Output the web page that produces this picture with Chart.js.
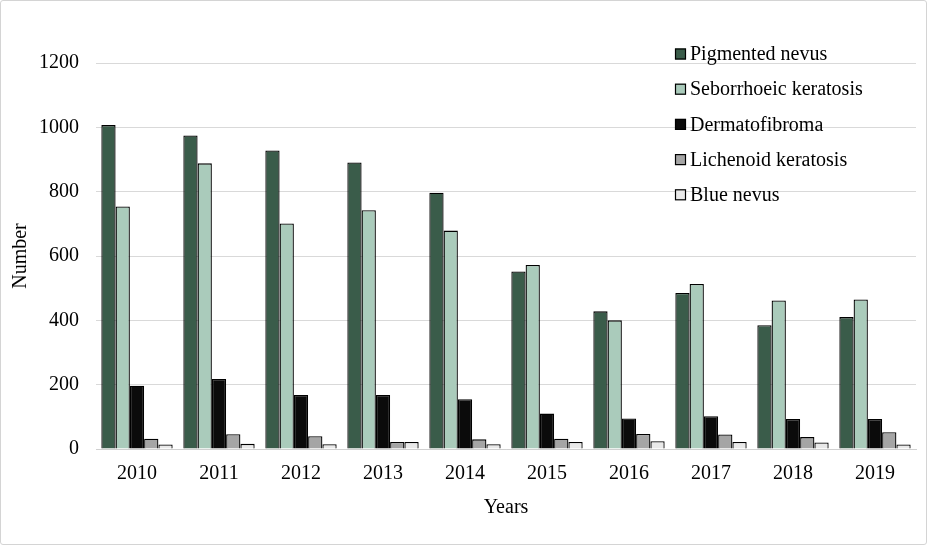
<!DOCTYPE html>
<html>
<head>
<meta charset="utf-8">
<script src="https://cdn.jsdelivr.net/npm/chart.js@4"></script>
<style>
  html, body { margin: 0; padding: 0; background: #fff; }
  #wrap { width: 925px; height: 543px; border: 1px solid #d4d4d4; border-radius: 3px; }
</style>
</head>
<body>
<div id="wrap"><canvas id="chart" width="925" height="543"></canvas></div>
<script>
const years = ["2010", "2011", "2012", "2013", "2014", "2015", "2016", "2017", "2018", "2019"];
const seriesNames = ["Pigmented nevus", "Seborrhoeic keratosis", "Dermatofibroma", "Lichenoid keratosis", "Blue nevus"];
const pigmentedNevus = [1007, 975, 928, 891, 797, 552, 428, 485, 385, 410];
const seborrhoeicKeratosis = [754, 888, 701, 742, 679, 572, 400, 513, 462, 465];
const dermatofibroma = [197, 218, 168, 168, 155, 110, 95, 102, 93, 93];
const lichenoidKeratosis = [32, 46, 40, 22, 30, 32, 47, 45, 37, 52];
const blueNevus = [14, 16, 15, 22, 15, 22, 24, 22, 20, 14];
const yTicks = [0, 200, 400, 600, 800, 1000, 1200];

const colors = ["#3a5c4a", "#aacbbb", "#0b0b0b", "#a5a5a5", "#e9e9e9"];
const values = [pigmentedNevus, seborrhoeicKeratosis, dermatofibroma, lichenoidKeratosis, blueNevus];

const font = "'Liberation Serif', 'Times New Roman', serif";

// legend drawn inside the plot, top right
const innerLegend = {
  id: "innerLegend",
  afterDraw(chart) {
    const ctx = chart.ctx;
    const x = 674, y0 = 53, step = 35.2, box = 11;
    ctx.save();
    ctx.font = "20px " + font;
    ctx.textBaseline = "middle";
    chart.data.datasets.forEach((ds, i) => {
      const y = y0 + i * step;
      ctx.fillStyle = ds.backgroundColor;
      ctx.fillRect(x, y - box / 2, box, box);
      ctx.strokeStyle = "#000";
      ctx.lineWidth = 1.2;
      ctx.strokeRect(x + 0.5, y - box / 2 + 0.5, box - 1, box - 1);
      ctx.fillStyle = "#000";
      ctx.fillText(ds.label, x + 15, y + 1);
    });
    ctx.restore();
  }
};

new Chart(document.getElementById("chart").getContext("2d"), {
  type: "bar",
  data: {
    labels: years,
    datasets: seriesNames.map((name, i) => ({
      label: name,
      data: values[i],
      backgroundColor: colors[i],
      borderColor: "#000",
      borderWidth: 1.3,
      barPercentage: 1,
      categoryPercentage: 0.87
    }))
  },
  options: {
    responsive: false,
    animation: false,
    layout: { padding: { top: 62, right: 10, left: 8, bottom: 24 } },
    plugins: {
      legend: { display: false },
      tooltip: { enabled: false }
    },
    scales: {
      x: {
        afterFit(axis) { axis.height = 71; },
        grid: { display: false },
        border: { color: "#d0d0d0", width: 1 },
        ticks: { color: "#000", font: { family: font, size: 20 }, padding: 5 },
        title: { display: true, text: "Years", color: "#000", font: { family: font, size: 20 }, padding: { top: 18, bottom: 0 } }
      },
      y: {
        min: 0,
        max: 1200,
        afterBuildTicks(axis) { axis.ticks = yTicks.map(v => ({ value: v })); },
        afterFit(axis) { axis.width = 87; },
        grid: { color: "#d9d9d9", lineWidth: 1, drawTicks: false },
        border: { display: false },
        ticks: { color: "#000", font: { family: font, size: 20 }, padding: 17, callback: v => String(v) },
        title: { display: true, text: "Number", color: "#000", font: { family: font, size: 20 }, padding: { top: 0, bottom: 6 } }
      }
    }
  },
  plugins: [innerLegend]
});
</script>
</body>
</html>
